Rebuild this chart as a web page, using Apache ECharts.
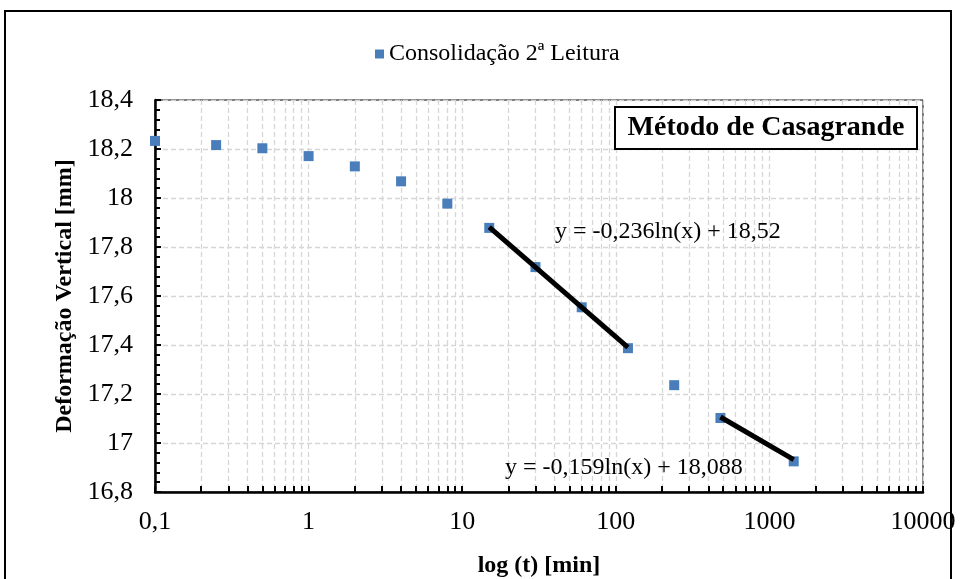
<!DOCTYPE html>
<html>
<head>
<meta charset="utf-8">
<script src="https://cdn.jsdelivr.net/npm/echarts@6/dist/echarts.min.js"></script>
<style>
  html, body { margin: 0; padding: 0; background: #fff; }
  #chart { width: 960px; height: 579px; }
</style>
</head>
<body>
<div id="chart"></div>
<script>
// tempo (min) e leitura do extensômetro (mm)
const tempos = [0.1, 0.25, 0.5, 1, 2, 4, 8, 15, 30, 60, 120, 240, 480, 1440];
const leituras = [18.233, 18.216, 18.203, 18.171, 18.129, 18.068, 17.977, 17.878, 17.718, 17.554, 17.387, 17.236, 17.102, 16.925];

// extremos das retas de tendência
const trechoX1 = [15, 120];
const trechoY1 = [17.881, 17.390];
const trechoX2 = [480, 1440];
const trechoY2 = [17.106, 16.932];

// rótulos e textos
const decadas = [0.1, 1, 10, 100, 1000, 10000];
const subdivisoes = [1, 2, 3, 4, 5, 6, 7, 8, 9];
const eq1 = 'y = -0,236ln(x) + 18,52';
const eq2 = 'y = -0,159ln(x) + 18,088';
const nomeSerie = 'Consolidação 2ª Leitura';

const FONTE = "'Liberation Serif', 'Times New Roman', serif";
const AZUL = '#4a7ebb';
const GRADE = { color: '#d6d6d6', type: [5, 3], width: 1.3 };

// ticks menores do eixo log (1..9 de cada década)
const ticksX = [];
decadas.forEach((d, i) => {
  if (i === decadas.length - 1) { ticksX.push(d); return; }
  subdivisoes.forEach(s => ticksX.push(+(d * s).toPrecision(3)));
});

const virgula = v => String(+v.toFixed(2)).replace('.', ',');

const chart = echarts.init(document.getElementById('chart'));

const option = {
  animation: false,
  backgroundColor: '#fff',
  textStyle: { fontFamily: FONTE, color: '#000' },
  legend: {
    top: 37,
    left: 370,
    itemWidth: 9,
    itemHeight: 9,
    itemGap: 6,
    textStyle: { fontFamily: FONTE, fontSize: 24, color: '#000' },
    data: [{ name: nomeSerie, icon: 'rect', itemStyle: { color: AZUL, opacity: 1 } }]
  },
  grid: {
    left: 155, right: 37, top: 100, bottom: 87,
    outerBoundsMode: 'none',
    show: true, borderColor: '#000', borderWidth: 1
  },
  xAxis: {
    type: 'log',
    logBase: 10,
    min: 0.1,
    max: 10000,
    name: 'log (t) [min]',
    nameLocation: 'middle',
    nameGap: 62,
    nameTextStyle: { fontFamily: FONTE, fontSize: 24, fontWeight: 'bold', color: '#000' },
    axisLine: { show: true, onZero: false, lineStyle: { color: '#000', width: 2.5 } },
    axisTick: { show: true, inside: true, length: 6, customValues: ticksX, lineStyle: { color: '#000', width: 2 } },
    axisLabel: {
      customValues: decadas,
      margin: 17,
      fontFamily: FONTE, fontSize: 26, color: '#000',
      formatter: v => String(v).replace('.', ',')
    },
    splitLine: { show: true, lineStyle: GRADE }
  },
  yAxis: {
    type: 'value',
    min: 16.8,
    max: 18.4,
    interval: 0.2,
    name: 'Deformação Vertical [mm]',
    nameLocation: 'middle',
    nameGap: 77,
    nameTextStyle: { fontFamily: FONTE, fontSize: 24, fontWeight: 'bold', color: '#000' },
    axisLine: { show: true, lineStyle: { color: '#000', width: 2.5 } },
    axisTick: { show: true, inside: true, length: 6, lineStyle: { color: '#000', width: 2 } },
    minorTick: { show: true, splitNumber: 5, length: 5, lineStyle: { color: '#000', width: 2 } },
    axisLabel: {
      margin: 22,
      fontFamily: FONTE, fontSize: 26, color: '#000',
      formatter: v => virgula(v)
    },
    splitLine: { show: true, lineStyle: GRADE }
  },
  series: [
    {
      name: nomeSerie,
      type: 'scatter',
      symbol: 'rect',
      symbolSize: 10,
      itemStyle: { color: AZUL, opacity: 1 },
      data: tempos.map((t, i) => [t, leituras[i]]),
      z: 3
    },
    {
      name: 'tendencia1',
      type: 'line',
      symbol: 'none',
      lineStyle: { color: '#000', width: 5 },
      data: trechoX1.map((t, i) => [t, trechoY1[i]]),
      z: 4
    },
    {
      name: 'tendencia2',
      type: 'line',
      symbol: 'none',
      lineStyle: { color: '#000', width: 5 },
      data: trechoX2.map((t, i) => [t, trechoY2[i]]),
      z: 4
    }
  ],
  graphic: [
    {
      type: 'rect',
      shape: { x: 5, y: 11, width: 946, height: 600 },
      style: { fill: 'none', stroke: '#000', lineWidth: 2 },
      silent: true
    },
    {
      type: 'rect',
      shape: { x: 615, y: 107, width: 302, height: 42 },
      style: { fill: '#fff', stroke: '#000', lineWidth: 2 },
      z: 10
    },
    {
      type: 'text',
      x: 766, y: 128,
      style: { text: 'Método de Casagrande', font: "bold 28px 'Liberation Serif', serif", fill: '#000', align: 'center', verticalAlign: 'middle' },
      z: 11
    },
    {
      type: 'text',
      x: 555, y: 232,
      style: { text: eq1, font: "24px 'Liberation Serif', serif", fill: '#000', align: 'left', verticalAlign: 'middle' },
      z: 11
    },
    {
      type: 'text',
      x: 505, y: 468,
      style: { text: eq2, font: "24px 'Liberation Serif', serif", fill: '#000', align: 'left', verticalAlign: 'middle' },
      z: 11
    }
  ]
};

chart.setOption(option);
</script>
</body>
</html>
